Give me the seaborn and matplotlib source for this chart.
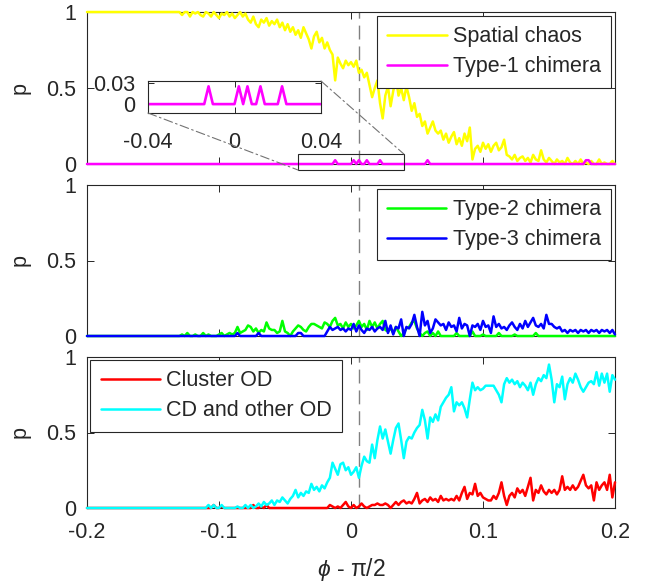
import numpy as np
import pandas as pd
import matplotlib
matplotlib.use("Agg")
import matplotlib.pyplot as plt
from matplotlib.patches import Rectangle, ConnectionPatch
import seaborn as sns

# ---------------- data ----------------
phi = np.linspace(-0.2, 0.2, 201)  # phi - pi/2 grid

spatial_chaos = (
    [1.0] * 36
    + [0.98, 1, 1, 0.97, 1, 0.99, 1, 0.98, 0.97, 1, 0.99, 0.97, 1, 0.98, 0.96, 0.99, 0.98, 1, 0.97, 0.99,
       0.96, 0.98, 1, 0.97, 0.99]
    + [0.95, 0.93, 0.97, 0.92, 0.9, 0.95, 0.93, 0.96, 0.91, 0.94, 0.92, 0.95, 0.9, 0.93, 0.88, 0.92, 0.87, 0.9,
       0.85, 0.88, 0.83, 0.9, 0.86, 0.82, 0.76, 0.84, 0.87, 0.8, 0.83, 0.76, 0.8, 0.75, 0.72, 0.55, 0.7, 0.66,
       0.63, 0.68, 0.65, 0.67]
    + [0.64, 0.68, 0.6, 0.62, 0.57, 0.6, 0.52, 0.44, 0.5, 0.55, 0.4, 0.3, 0.45, 0.51, 0.38, 0.48, 0.57, 0.45,
       0.5, 0.42, 0.51, 0.44, 0.35, 0.4, 0.31, 0.33, 0.25, 0.28, 0.2, 0.24, 0.28, 0.22, 0.2, 0.22, 0.16, 0.2,
       0.14, 0.18, 0.21, 0.13]
    + [0.17, 0.12, 0.2, 0.15, 0.24, 0.03, 0.1, 0.12, 0.08, 0.14, 0.1, 0.13, 0.08, 0.12, 0.14, 0.09, 0.11, 0.16,
       0.06, 0.05, 0.03, 0.06, 0.02, 0.04, 0.05, 0.02, 0.04, 0.01, 0.06, 0.03, 0.02, 0.09, 0.03, 0.01, 0.04,
       0.02, 0.0, 0.03, 0.01, 0.02, 0.0, 0.04, 0.01, 0.0, 0.02, 0.0, 0.03, 0.0, 0.01, 0.0, 0.02, 0.0, 0.0, 0.03,
       0.0, 0.01, 0.0, 0.0, 0.02, 0.0]
)

type1_chimera = ([0.0] * 94 + [0.025] + [0.0] * 6 + [0.025, 0.0, 0.025] + [0.0] * 2 + [0.025]
                 + [0.0] * 4 + [0.025] + [0.0] * 17 + [0.025] + [0.0] * 59 + [0.025, 0.025] + [0.0] * 10)

type2_chimera = (
    [0.0] * 36
    + [0.01, 0, 0.02, 0, 0, 0.01, 0, 0, 0.02, 0, 0.01, 0, 0, 0, 0.01, 0.02, 0, 0.01, 0.02, 0.01]
    + [0.02, 0.06, 0.02, 0.03, 0.04, 0.07, 0.06, 0.03, 0.05, 0.02,
       0.04, 0.03, 0.09, 0.05, 0.04, 0.04, 0.02, 0.03, 0.1, 0.03,
       0.02, 0.0, 0.03, 0.05, 0.07, 0.06, 0.04, 0.03, 0.06, 0.08,
       0.08, 0.07, 0.06, 0.05, 0.09, 0.08, 0.06, 0.1, 0.12, 0.07,
       0.08, 0.05, 0.09, 0.06, 0.08, 0.05, 0.07, 0.1, 0.06, 0.08,
       0.04, 0.1, 0.06, 0.09, 0.05, 0.08, 0.1, 0.04, 0.03, 0.05,
       0.02, 0.06, 0.03, 0.0, 0.02, 0.05, 0.06, 0.09, 0.1, 0.05,
       0.02, 0.0, 0.02, 0.03, 0.0, 0.02, 0.0, 0.03, 0.0]
    + [0, 0, 0, 0, 0, 0.02, 0, 0, 0, 0,
       0, 0.03, 0, 0, 0, 0.01, 0, 0, 0, 0,
       0, 0.02, 0, 0, 0, 0, 0, 0.01, 0, 0,
       0, 0, 0, 0, 0, 0.02, 0, 0, 0, 0,
       0, 0, 0, 0, 0, 0, 0, 0, 0, 0,
       0, 0, 0, 0, 0, 0, 0, 0, 0, 0,
       0, 0, 0, 0, 0, 0]
)

type3_chimera = (
    [0.0] * 57 + [0.02] + [0.0] * 7 + [0.02] + [0.0] * 14 + [0.02, 0.02] + [0.0] * 9
    + [0.03, 0.06, 0.04, 0.05, 0.06, 0.04, 0.05, 0.03, 0.05, 0.04,
       0.08, 0.03, 0.07, 0.04, 0.02, 0.05, 0.04, 0.06, 0.03, 0.05,
       0.06, 0.04, 0.1, 0.02, 0.07, 0.01, 0.06, 0.05, 0.11, 0.0,
       0.06, 0.05, 0.08, 0.14, 0.06, 0.0, 0.16, 0.07, 0.1, 0.02,
       0.05, 0.11, 0.09, 0.07, 0.08, 0.04, 0.09, 0.06, 0.07, 0.03,
       0.12, 0.05, 0.08, 0.07, 0.0, 0.07, 0.06, 0.08, 0.04, 0.1,
       0.06, 0.07, 0.02, 0.13, 0.06, 0.08, 0.05, 0.06, 0.04, 0.07,
       0.09, 0.06, 0.04, 0.08, 0.05, 0.1, 0.06, 0.09, 0.12, 0.07,
       0.06, 0.08, 0.05, 0.14, 0.08, 0.08, 0.06, 0.05, 0.06, 0.03,
       0.04, 0.02, 0.04, 0.03, 0.04, 0.02, 0.04, 0.03, 0.04, 0.02,
       0.04, 0.03, 0.04, 0.02, 0.04, 0.03, 0.04, 0.02, 0.04, 0.01]
)

cluster_od = (
    [0.0] * 48 + [0.02, 0, 0, 0.01] + [0.0] * 11 + [0.02, 0, 0, 0.01, 0, 0.02] + [0.0] * 22
    + [0, 0.02, 0.01, 0, 0.01, 0, 0.02, 0.04, 0.01, 0,
       0.02, 0, 0.01, 0.03, 0.01, 0, 0.01, 0.02, 0.02, 0.03,
       0.02, 0.02, 0.03, 0.02, 0, 0.02, 0.04, 0.02, 0.04, 0.05,
       0.03, 0.04, 0.03, 0.06, 0.1, 0.03, 0.05, 0.06, 0.04, 0.07,
       0.05, 0.06, 0.04, 0.08, 0.05, 0.06, 0.05, 0.06, 0.05, 0.08,
       0.05, 0.1, 0.14, 0.06, 0.1, 0.09, 0.16, 0.08, 0.1, 0.07,
       0.06, 0.05, 0.05, 0.08, 0.06, 0.1, 0.17, 0.08, 0.02, 0.08,
       0.1, 0.07, 0.13, 0.1, 0.12, 0.08, 0.14, 0.2, 0.05, 0.12,
       0.1, 0.15, 0.11, 0.09, 0.12, 0.1, 0.12, 0.09, 0.12, 0.21,
       0.12, 0.14, 0.12, 0.15, 0.12, 0.14, 0.18, 0.22, 0.15, 0.13,
       0.15, 0.05, 0.17, 0.12, 0.15, 0.17, 0.12, 0.22, 0.07, 0.17]
)

cd_other_od = (
    [0.0] * 45
    + [0, 0.02, 0, 0.02, 0, 0, 0.02, 0, 0, 0,
       0, 0, 0.01, 0, 0, 0.02, 0, 0.02, 0, 0.01,
       0.03, 0.01, 0.04, 0.02, 0.03, 0.05, 0.02, 0.05, 0.04, 0.07,
       0.05, 0.03, 0.06, 0.08, 0.12, 0.07, 0.1, 0.08, 0.11, 0.1,
       0.16, 0.12, 0.14, 0.11, 0.15, 0.13, 0.17, 0.2, 0.3, 0.26,
       0.22, 0.29, 0.3, 0.25, 0.27, 0.22, 0.24, 0.27, 0.2, 0.28,
       0.34, 0.31, 0.3, 0.42, 0.33, 0.45, 0.54, 0.46, 0.52, 0.44,
       0.36, 0.45, 0.53, 0.56, 0.45, 0.33, 0.44, 0.47, 0.46, 0.5,
       0.53, 0.55, 0.65, 0.58, 0.46, 0.6, 0.57, 0.62, 0.58, 0.67,
       0.7, 0.73, 0.75, 0.8, 0.64, 0.7, 0.68, 0.7, 0.66, 0.6,
       0.72, 0.83, 0.78, 0.8, 0.78, 0.79, 0.81, 0.81, 0.81, 0.81,
       0.78, 0.75, 0.7, 0.82, 0.86, 0.83, 0.85, 0.82, 0.84, 0.8,
       0.83, 0.81, 0.78, 0.83, 0.75, 0.82, 0.86, 0.84, 0.88, 0.86,
       0.95, 0.85, 0.7, 0.82, 0.8, 0.87, 0.72, 0.82, 0.86, 0.83,
       0.89, 0.85, 0.8, 0.77, 0.8, 0.83, 0.84, 0.82, 0.9, 0.81,
       0.89, 0.83, 0.89, 0.77, 0.88, 0.85]
)

panels = [
    [("Spatial chaos", spatial_chaos, "#ffff00"), ("Type-1 chimera", type1_chimera, "#ff00ff")],
    [("Type-2 chimera", type2_chimera, "#00ff00"), ("Type-3 chimera", type3_chimera, "#0000ff")],
    [("Cluster OD", cluster_od, "#ff0000"), ("CD and other OD", cd_other_od, "#00ffff")],
]
legend_locs = ["upper right", "upper right", "upper left"]
x_ticks = [-0.2, -0.1, 0, 0.1, 0.2]
x_ticklabels = ["-0.2", "-0.1", "0", "0.1", "0.2"]
y_ticks = [0, 0.5, 1]
y_ticklabels = ["0", "0.5", "1"]
threshold = 0.006  # dashed vertical marker

# ---------------- style ----------------
sns.set_style("white")
plt.rcParams["font.family"] = ["Liberation Sans", "DejaVu Sans"]
plt.rcParams["mathtext.fontset"] = "custom"
plt.rcParams["mathtext.it"] = "Liberation Sans:italic"
plt.rcParams["mathtext.rm"] = "Liberation Sans"
FS = 15.5
TXT = "#262626"

W, H = 656, 586
fig = plt.figure(figsize=(W / 100, H / 100), dpi=100)

left, width = 87 / W, 528 / W
tops_bottoms = [(12, 164), (185, 336), (357, 508)]

axes = []
for k, (top, bot) in enumerate(tops_bottoms):
    ax = fig.add_axes([left, 1 - bot / H, width, (bot - top) / H])
    ax.axvline(threshold, color="0.5", lw=1.0, ls=(0, (10, 5)), zorder=1)
    for name, vals, col in panels[k]:
        df = pd.DataFrame({"phi": phi, "p": vals})
        sns.lineplot(data=df, x="phi", y="p", ax=ax, color=col, lw=1.8, label=name,
                     clip_on=False, zorder=3)
    ax.set_xlim(-0.2, 0.2)
    ax.set_ylim(0, 1)
    ax.set_xticks(x_ticks)
    ax.set_yticks(y_ticks)
    ax.set_yticklabels(y_ticklabels)
    if k == 2:
        ax.set_xticklabels(x_ticklabels)
    else:
        ax.set_xticklabels([])
    ax.set_xlabel("")
    ax.set_ylabel("p", fontsize=FS, color=TXT)
    ax.yaxis.set_label_coords(-0.106, 0.5)
    ax.tick_params(direction="in", top=True, right=True, bottom=True, left=True,
                   length=5, width=0.7, labelsize=FS, colors=TXT, pad=8)
    ax.tick_params(axis="x", pad=10)
    for s in ax.spines.values():
        s.set_visible(True)
        s.set_color(TXT)
        s.set_linewidth(0.8)
    if legend_locs[k] == "upper right":
        anchor = (0.993, 0.975)
    else:
        anchor = (0.006, 0.98)
    leg = ax.legend(loc=legend_locs[k], bbox_to_anchor=anchor, fontsize=FS, frameon=True,
                    fancybox=False, edgecolor=TXT, framealpha=1, handlelength=2.75,
                    handletextpad=0.3, labelspacing=0.42, borderpad=0.48, borderaxespad=0.0)
    leg.get_frame().set_linewidth(0.8)
    for line in leg.get_lines():
        line.set_linewidth(1.8)
    axes.append(ax)

axes[2].set_xlabel(r"$\phi$ - π/2", fontsize=FS + 1, color=TXT)
axes[2].xaxis.set_label_coords(0.5, -0.315)

# zoom rectangle on the top panel
ax1 = axes[0]
rect = Rectangle((-0.04, -0.04), 0.08, 0.106, fill=False, ec=TXT, lw=0.8, clip_on=False, zorder=4)
ax1.add_patch(rect)

# inset
ins = fig.add_axes([148 / W, 1 - 113 / H, 173 / W, 32 / H])
sns.lineplot(x=phi, y=type1_chimera, ax=ins, color="#ff00ff", lw=1.9, legend=False)
ins.set_xlim(-0.04, 0.04)
ins.set_ylim(-0.0125, 0.0325)
ins.set_xticks([-0.04, 0, 0.04])
ins.set_xticklabels(["-0.04", "0", "0.04"])
ins.set_yticks([0, 0.03])
ins.set_yticklabels(["0", "0.03"])
ins.tick_params(direction="in", top=True, right=True, bottom=True, left=True,
                length=4, width=0.7, labelsize=FS, colors=TXT)
ins.tick_params(axis="x", pad=14)
ins.tick_params(axis="y", pad=9)
for s in ins.spines.values():
    s.set_visible(True)
    s.set_color(TXT)
    s.set_linewidth(0.8)
ins.set_facecolor("white")

for xyA, xyB in [((0, 0), (-0.04, -0.04)), ((1, 1), (0.04, 0.066))]:
    con = ConnectionPatch(xyA=xyA, coordsA=ins.transAxes, xyB=xyB, coordsB=ax1.transData,
                          color="0.45", lw=0.8, ls=(0, (8, 3, 1.5, 3)), zorder=2)
    fig.add_artist(con)

fig.savefig("out.png", dpi=100)
